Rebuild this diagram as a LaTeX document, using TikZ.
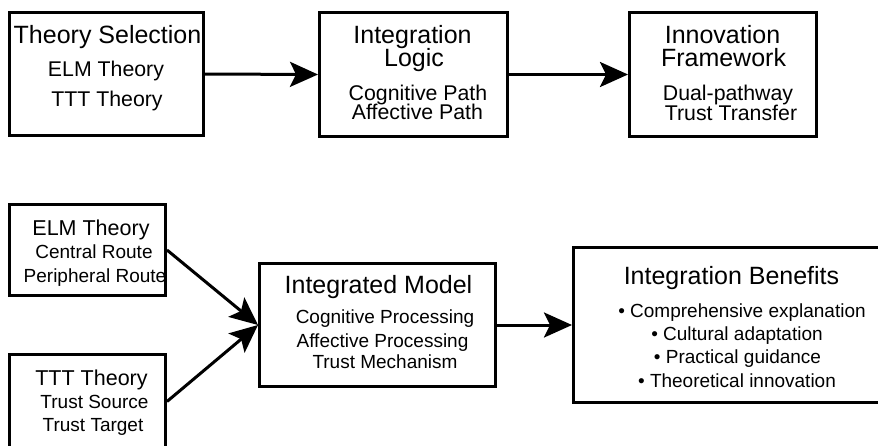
\documentclass[tikz,border=0pt]{standalone}
\usepackage{fontspec}
\setmainfont{Liberation Sans}
\usetikzlibrary{arrows.meta}
\begin{document}
\begin{tikzpicture}[x=1pt,y=-1pt,
  box/.style={draw=black, line width=3pt, inner sep=0pt, rectangle},
  conn/.style={line width=3pt, -{Stealth[length=28pt,width=25pt,inset=6pt]}},
  tt/.style={anchor=base, inner sep=0pt, font=\fontsize{25}{25}\selectfont},
  ts/.style={anchor=base, inner sep=0pt, font=\fontsize{21.3}{21.3}\selectfont},
  th/.style={anchor=base, inner sep=0pt, font=\fontsize{21.5}{21.5}\selectfont},
  tb/.style={anchor=base, inner sep=0pt, font=\fontsize{19}{19}\selectfont}]
\useasboundingbox[fill=white] (0,0) rectangle (878,445);
\clip (0,0) rectangle (878,445);

% boxes
\node[box, minimum width=194pt, minimum height=123pt] (sel) at (106.5,74) {};
\node[box, minimum width=188pt, minimum height=124pt] (log) at (413.5,74.5) {};
\node[box, minimum width=187pt, minimum height=124pt] (inn) at (723,74.5) {};
\node[box, minimum width=156pt, minimum height=91pt] (elm) at (87.5,250) {};
\node[box, minimum width=156pt, minimum height=94pt] (ttt) at (87.5,401.5) {};
\node[box, minimum width=236pt, minimum height=123pt] (im) at (377.5,325) {};
\node[box, minimum width=327pt, minimum height=155pt] (ben) at (737,325) {};

% texts: top row
\node[tt] (s1) at (107.5,43) {Theory Selection};
\node[ts] (s2) at (106,76) {ELM Theory};
\node[ts] (s3) at (107,106) {TTT Theory};

\node[tt] (l1) at (412.5,43) {Integration};
\node[tt] (l2) at (414,66) {Logic};
\node[ts] (l3) at (418,100) {Cognitive Path};
\node[ts] (l4) at (417.5,119.5) {Affective Path};

\node[tt] (i1) at (722.5,43) {Innovation};
\node[tt] (i2) at (723.5,66) {Framework};
\node[ts] (i3) at (728,100) {Dual-pathway};
\node[ts] (i4) at (731,120) {Trust Transfer};

% texts: bottom row
\node[th] (e1) at (91,235) {ELM Theory};
\node[tb] (e2) at (94,258) {Central Route};
\node[tb] (e3) at (95,282) {Peripheral Route};

\node[th] (t1) at (91.5,385) {TTT Theory};
\node[tb] (t2) at (94.5,408) {Trust Source};
\node[tb] (t3) at (93,431) {Trust Target};

\node[tt] (m1) at (378.5,293) {Integrated Model};
\node[tb] (m2) at (385,323) {Cognitive Processing};
\node[tb] (m3) at (382.5,347) {Affective Processing};
\node[tb] (m4) at (385,368) {Trust Mechanism};

\node[tt] (b1) at (731.5,284.5) {Integration Benefits};
\node[tb] (b2) at (742,317) {• Comprehensive explanation};
\node[tb] (b3) at (737,340) {• Cultural adaptation};
\node[tb] (b4) at (737.5,363) {• Practical guidance};
\node[tb] (b5) at (737,387) {• Theoretical innovation};

% connectors
\draw[conn] (sel.east) -- (log.west);
\draw[conn] (log.east) -- (inn.west);
\draw[conn] (elm.east) -- (im.west);
\draw[conn] (ttt.east) -- (im.west);
\draw[conn] (im.east) -- (ben.west);
\end{tikzpicture}
\end{document}
